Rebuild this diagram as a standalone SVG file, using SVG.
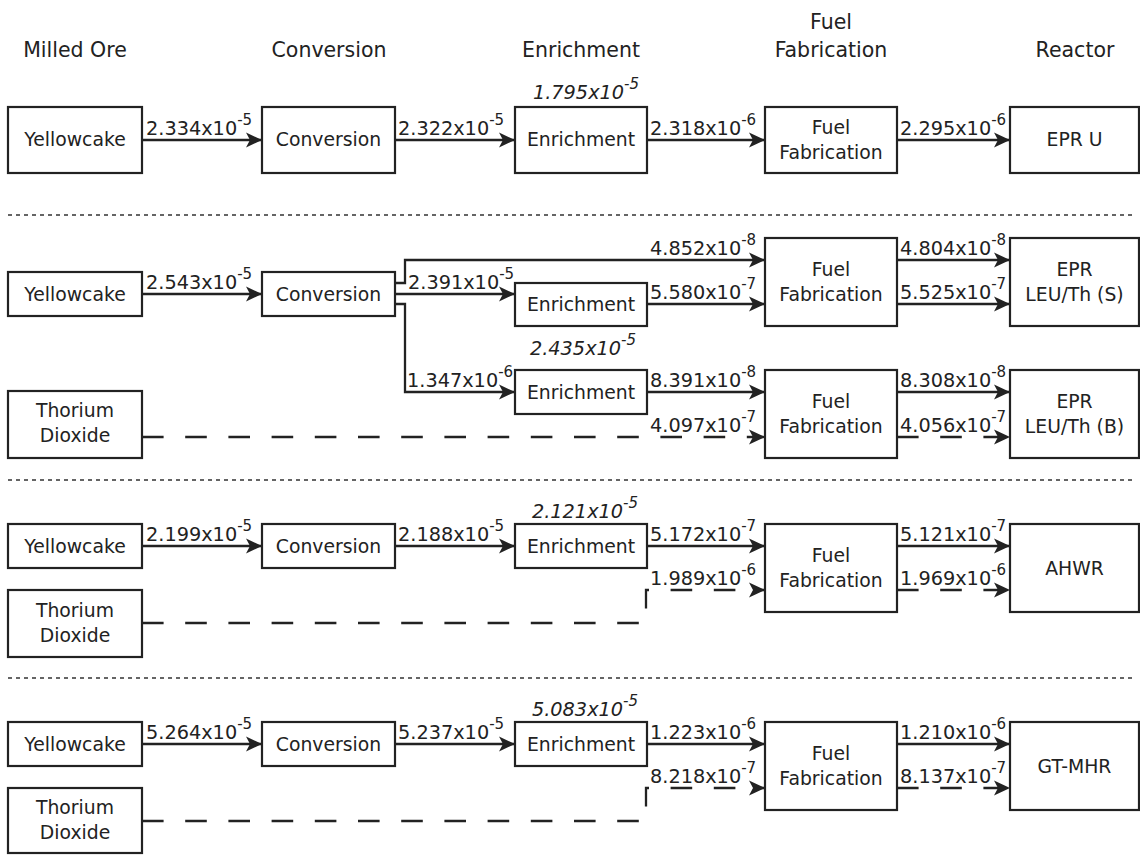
<svg xmlns="http://www.w3.org/2000/svg" width="1140" height="855" viewBox="0 0 1140 855">
<defs>
<style>
.box{fill:#fff;stroke:#222;stroke-width:2.2}
.t{font-family:"DejaVu Sans",sans-serif;font-size:18.8px;fill:#222;text-anchor:middle}
.h{font-family:"DejaVu Sans",sans-serif;font-size:20.5px;fill:#222;text-anchor:middle}
.l{font-family:"DejaVu Sans",sans-serif;font-size:19.3px;fill:#222}
.i{font-style:italic;text-anchor:middle}
.sup{font-size:15px}
.c{fill:none;stroke:#222;stroke-width:2.3;marker-end:url(#ah)}
.d{stroke-dasharray:21.6 21.6}
.sep{fill:none;stroke:#333;stroke-width:1.5;stroke-dasharray:4 4}
</style>
<marker id="ah" markerUnits="userSpaceOnUse" viewBox="-17 -8 18 16" refX="0" refY="0" markerWidth="18" markerHeight="16" orient="auto" overflow="visible">
<path d="M0,0 L-16,-7.5 L-12,0 L-16,7.5 Z" fill="#222"/>
</marker>
</defs>
<rect width="1140" height="855" fill="#fff"/>

<g id="headers">
<text class="h" x="75" y="57">Milled Ore</text>
<text class="h" x="329" y="57">Conversion</text>
<text class="h" x="581" y="57">Enrichment</text>
<text class="h" x="831" y="29">Fuel</text>
<text class="h" x="831" y="57">Fabrication</text>
<text class="h" x="1075" y="57">Reactor</text>
</g>

<g id="separators">
<line class="sep" x1="8" y1="215" x2="1132" y2="215"/>
<line class="sep" x1="8" y1="480" x2="1132" y2="480"/>
<line class="sep" x1="8" y1="678" x2="1132" y2="678"/>
</g>

<g id="connectors">
<path class="c" d="M142,140 H262"/>
<path class="c" d="M395,140 H515"/>
<path class="c" d="M647,140 H765"/>
<path class="c" d="M897,140 H1010"/>
<path class="c" d="M142,294 H262"/>
<path class="c" d="M395,283 H405 V260 H765"/>
<path class="c" d="M395,294 H515"/>
<path class="c" d="M395,304 H405 V392 H515"/>
<path class="c" d="M647,304 H765"/>
<path class="c" d="M647,392 H765"/>
<path class="c d" d="M142,437 H765"/>
<path class="c" d="M897,260 H1010"/>
<path class="c" d="M897,304 H1010"/>
<path class="c" d="M897,392 H1010"/>
<path class="c d" d="M897,437 H1010"/>
<path class="c" d="M142,546 H262"/>
<path class="c" d="M395,546 H515"/>
<path class="c" d="M647,546 H765"/>
<path class="c" d="M897,546 H1010"/>
<path class="c d" d="M142,623 H646 V590 H765"/>
<path class="c d" d="M897,590 H1010"/>
<path class="c" d="M142,744 H262"/>
<path class="c" d="M395,744 H515"/>
<path class="c" d="M647,744 H765"/>
<path class="c" d="M897,744 H1010"/>
<path class="c d" d="M142,821 H646 V788 H765"/>
<path class="c d" d="M897,788 H1010"/>
</g>

<g id="labels">
<text class="l" x="146" y="135">2.334x10<tspan class="sup" dy="-10">-5</tspan></text>
<text class="l" x="398" y="135">2.322x10<tspan class="sup" dy="-10">-5</tspan></text>
<text class="l" x="650" y="135">2.318x10<tspan class="sup" dy="-10">-6</tspan></text>
<text class="l" x="900" y="135">2.295x10<tspan class="sup" dy="-10">-6</tspan></text>
<text class="l i" x="586" y="99">1.795x10<tspan class="sup" dy="-10">-5</tspan></text>

<text class="l" x="146" y="289">2.543x10<tspan class="sup" dy="-10">-5</tspan></text>
<text class="l" x="408" y="289">2.391x10<tspan class="sup" dy="-10">-5</tspan></text>
<text class="l" x="650" y="255">4.852x10<tspan class="sup" dy="-10">-8</tspan></text>
<text class="l" x="650" y="299">5.580x10<tspan class="sup" dy="-10">-7</tspan></text>
<text class="l" x="407" y="387">1.347x10<tspan class="sup" dy="-10">-6</tspan></text>
<text class="l" x="650" y="387">8.391x10<tspan class="sup" dy="-10">-8</tspan></text>
<text class="l" x="650" y="432">4.097x10<tspan class="sup" dy="-10">-7</tspan></text>
<text class="l" x="900" y="255">4.804x10<tspan class="sup" dy="-10">-8</tspan></text>
<text class="l" x="900" y="299">5.525x10<tspan class="sup" dy="-10">-7</tspan></text>
<text class="l" x="900" y="387">8.308x10<tspan class="sup" dy="-10">-8</tspan></text>
<text class="l" x="900" y="432">4.056x10<tspan class="sup" dy="-10">-7</tspan></text>
<text class="l i" x="583" y="355">2.435x10<tspan class="sup" dy="-10">-5</tspan></text>

<text class="l" x="146" y="541">2.199x10<tspan class="sup" dy="-10">-5</tspan></text>
<text class="l" x="398" y="541">2.188x10<tspan class="sup" dy="-10">-5</tspan></text>
<text class="l" x="650" y="541">5.172x10<tspan class="sup" dy="-10">-7</tspan></text>
<text class="l" x="900" y="541">5.121x10<tspan class="sup" dy="-10">-7</tspan></text>
<text class="l" x="650" y="585">1.989x10<tspan class="sup" dy="-10">-6</tspan></text>
<text class="l" x="900" y="585">1.969x10<tspan class="sup" dy="-10">-6</tspan></text>
<text class="l i" x="585" y="518">2.121x10<tspan class="sup" dy="-10">-5</tspan></text>

<text class="l" x="146" y="739">5.264x10<tspan class="sup" dy="-10">-5</tspan></text>
<text class="l" x="398" y="739">5.237x10<tspan class="sup" dy="-10">-5</tspan></text>
<text class="l" x="650" y="739">1.223x10<tspan class="sup" dy="-10">-6</tspan></text>
<text class="l" x="900" y="739">1.210x10<tspan class="sup" dy="-10">-6</tspan></text>
<text class="l" x="650" y="783">8.218x10<tspan class="sup" dy="-10">-7</tspan></text>
<text class="l" x="900" y="783">8.137x10<tspan class="sup" dy="-10">-7</tspan></text>
<text class="l i" x="585" y="716">5.083x10<tspan class="sup" dy="-10">-5</tspan></text>
</g>

<g id="s1-yellowcake"><rect class="box" x="8" y="107" width="134" height="66"/><text class="t" x="75" y="146">Yellowcake</text></g>
<g id="s1-conversion"><rect class="box" x="262" y="107" width="133" height="66"/><text class="t" x="328.5" y="146">Conversion</text></g>
<g id="s1-enrichment"><rect class="box" x="515" y="107" width="132" height="66"/><text class="t" x="581" y="146">Enrichment</text></g>
<g id="s1-fuelfab"><rect class="box" x="765" y="107" width="132" height="66"/><text class="t" x="831" y="134">Fuel</text><text class="t" x="831" y="159">Fabrication</text></g>
<g id="s1-epru"><rect class="box" x="1010" y="107" width="129" height="66"/><text class="t" x="1074.5" y="146">EPR U</text></g>

<g id="s2-yellowcake"><rect class="box" x="8" y="272" width="134" height="44"/><text class="t" x="75" y="300.5">Yellowcake</text></g>
<g id="s2-conversion"><rect class="box" x="262" y="272" width="133" height="44"/><text class="t" x="328.5" y="300.5">Conversion</text></g>
<g id="s2-enrichment1"><rect class="box" x="515" y="283" width="132" height="43"/><text class="t" x="581" y="311">Enrichment</text></g>
<g id="s2-enrichment2"><rect class="box" x="515" y="370" width="132" height="44"/><text class="t" x="581" y="398.5">Enrichment</text></g>
<g id="s2-thorium"><rect class="box" x="8" y="391" width="134" height="67"/><text class="t" x="75" y="417">Thorium</text><text class="t" x="75" y="442">Dioxide</text></g>
<g id="s2-fuelfab1"><rect class="box" x="765" y="238" width="132" height="88"/><text class="t" x="831" y="276">Fuel</text><text class="t" x="831" y="301">Fabrication</text></g>
<g id="s2-fuelfab2"><rect class="box" x="765" y="370" width="132" height="88"/><text class="t" x="831" y="408">Fuel</text><text class="t" x="831" y="433">Fabrication</text></g>
<g id="s2-epr-s"><rect class="box" x="1010" y="238" width="129" height="88"/><text class="t" x="1074.5" y="276">EPR</text><text class="t" x="1074.5" y="301">LEU/Th (S)</text></g>
<g id="s2-epr-b"><rect class="box" x="1010" y="370" width="129" height="88"/><text class="t" x="1074.5" y="408">EPR</text><text class="t" x="1074.5" y="433">LEU/Th (B)</text></g>

<g id="s3-yellowcake"><rect class="box" x="8" y="524" width="134" height="44"/><text class="t" x="75" y="552.5">Yellowcake</text></g>
<g id="s3-conversion"><rect class="box" x="262" y="524" width="133" height="44"/><text class="t" x="328.5" y="552.5">Conversion</text></g>
<g id="s3-enrichment"><rect class="box" x="515" y="524" width="132" height="44"/><text class="t" x="581" y="552.5">Enrichment</text></g>
<g id="s3-thorium"><rect class="box" x="8" y="590" width="134" height="67"/><text class="t" x="75" y="617">Thorium</text><text class="t" x="75" y="642">Dioxide</text></g>
<g id="s3-fuelfab"><rect class="box" x="765" y="524" width="132" height="88"/><text class="t" x="831" y="562">Fuel</text><text class="t" x="831" y="587">Fabrication</text></g>
<g id="s3-ahwr"><rect class="box" x="1010" y="524" width="129" height="88"/><text class="t" x="1074.5" y="574.5">AHWR</text></g>

<g id="s4-yellowcake"><rect class="box" x="8" y="722" width="134" height="44"/><text class="t" x="75" y="750.5">Yellowcake</text></g>
<g id="s4-conversion"><rect class="box" x="262" y="722" width="133" height="44"/><text class="t" x="328.5" y="750.5">Conversion</text></g>
<g id="s4-enrichment"><rect class="box" x="515" y="722" width="132" height="44"/><text class="t" x="581" y="750.5">Enrichment</text></g>
<g id="s4-thorium"><rect class="box" x="8" y="788" width="134" height="65"/><text class="t" x="75" y="814">Thorium</text><text class="t" x="75" y="839">Dioxide</text></g>
<g id="s4-fuelfab"><rect class="box" x="765" y="722" width="132" height="88"/><text class="t" x="831" y="760">Fuel</text><text class="t" x="831" y="785">Fabrication</text></g>
<g id="s4-gtmhr"><rect class="box" x="1010" y="722" width="129" height="88"/><text class="t" x="1074.5" y="772.5">GT-MHR</text></g>
</svg>
